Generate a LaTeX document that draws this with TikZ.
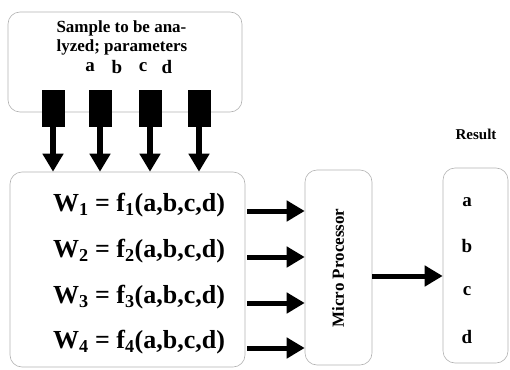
\documentclass[tikz,border=0pt]{standalone}
\usepackage{fontspec}
\setmainfont{Liberation Serif}
\usetikzlibrary{arrows.meta}
\begin{document}
\begin{tikzpicture}[x=1pt, y=-1pt,
  box/.style={draw=gray!60, line width=0.6pt, rounded corners=12pt, inner sep=0pt},
  sensor/.style={fill=black, minimum width=23pt, minimum height=37pt, inner sep=0pt},
  feed/.style={line width=5pt, -{Triangle[width=20pt,length=18pt]}},
  eqn/.style={font=\bfseries\fontsize{26}{28}\selectfont},
  res/.style={font=\bfseries\fontsize{19}{21}\selectfont}]
\useasboundingbox (0,0) rectangle (510,369);
% sample box with the four sensors
\node[box, minimum width=234pt, minimum height=100pt] (sample) at (125,62) {};
\node[anchor=west, align=left, font=\bfseries\fontsize{17}{19}\selectfont] (txt) at (53,37.5)
  {Sample to be ana-\\lyzed; parameters};
\node[res] (pa) at (90,67) {a};
\node[res] (pb) at (117,67) {b};
\node[res] (pc) at (143,67) {c};
\node[res] (pd) at (167,67) {d};
\node[sensor] (s1) at (53,108) {};
\node[sensor] (s2) at (100,108) {};
\node[sensor] (s3) at (150,108) {};
\node[sensor] (s4) at (199,108) {};

% equations box
\node[box, minimum width=235pt, minimum height=195pt] (wbox) at (127.5,269.5) {};
\node[eqn] (w1) at (139,205) {W$_{\mathbf{1}}$ = f$_{\mathbf{1}}$(a,b,c,d)};
\node[eqn] (w2) at (139,251) {W$_{\mathbf{2}}$ = f$_{\mathbf{2}}$(a,b,c,d)};
\node[eqn] (w3) at (139,297) {W$_{\mathbf{3}}$ = f$_{\mathbf{3}}$(a,b,c,d)};
\node[eqn] (w4) at (139,342) {W$_{\mathbf{4}}$ = f$_{\mathbf{4}}$(a,b,c,d)};

% micro processor
\node[box, minimum width=67pt, minimum height=195pt] (mp) at (338.5,267.5) {};
\node[rotate=90, font=\bfseries\fontsize{17}{19}\selectfont] (mptxt) at (338,268) {Micro Processor};

% result
\node[font=\bfseries\fontsize{15}{17}\selectfont] (rtitle) at (476,134) {Result};
\node[box, minimum width=65pt, minimum height=195pt] (rbox) at (475.5,265.5) {};
\node[res] (ra) at (467,202) {a};
\node[res] (rb) at (467,246) {b};
\node[res] (rc) at (467,291) {c};
\node[res] (rd) at (467,337) {d};

% arrows
\foreach \s in {s1,s2,s3,s4}
  \draw[feed, line width=6pt] (\s.south) -- (\s.south |- wbox.north);
\foreach \w in {w1,w2,w3,w4}{
  \path ([yshift=-6pt]\w.center) coordinate (a\w);
  \draw[feed, shorten <=2pt] (a\w -| wbox.east) -- (a\w -| mp.west);
}
\draw[feed] ([yshift=-8.5pt]mp.east) -- ([yshift=-8.5pt]mp.east -| rbox.west);
\end{tikzpicture}
\end{document}
